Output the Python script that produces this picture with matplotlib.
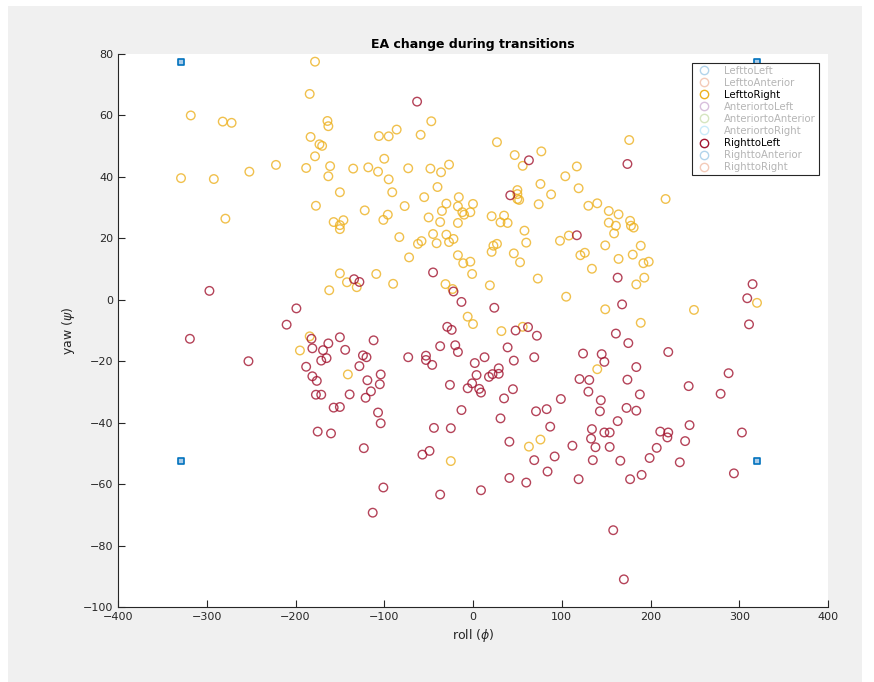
import matplotlib
matplotlib.use("Agg")
import matplotlib.pyplot as plt
from matplotlib.lines import Line2D
from matplotlib.patches import Rectangle
import numpy as np

plt.rcParams['font.family'] = ['Liberation Sans Narrow', 'DejaVu Sans']

# LefttoRight transitions (roll, yaw)
l2r_roll = [-178, -184, -318, -282, -272, -164, -163, -183, -173, -170, -178, -222, -188, -161,
            -135, -329, -292, -252, -163, -150, -177, -279, -157, -146, -150, -150,
            -47, -86, -106, -95, -59, 27, 47, 77, 56, -100, -118, -107, -73, -48, -36, -27,
            -95, -91, -40, -122, -96, -101, -77, -55, -50, -35, -37, -30, -16, -17, -12, -10,
            -3, 0, -17, -83, -45, -30, -22, -27, -58, -62, -41, 21, 35, 31, 39, 50, 50, 50, 52,
            76, 88, 74, 104, 117, 119, 130, 140, 58, 60, 98, 108, 23, 27,
            176, 217, 153, 164, 153, 161, 177, 178, 181, 159, 149, 189,
            -150, -142, -131, -162, -184, -195, -141,
            -72, -17, -11, -3, -1, -109, -90, -31, -23, 21, 46, 53, 121, 126, 134, 73, 105, 19,
            -6, 0, 32, 56, 140,
            164, 180, 192, 198, 193, 184, 149, 189, 249, 320,
            -25, 63, 76]
l2r_yaw = [77.5, 67, 60, 58, 57.6, 58.2, 56.5, 53, 50.6, 50.1, 46.7, 43.9, 42.9, 43.5,
           42.7, 39.6, 39.3, 41.7, 40.2, 35, 30.6, 26.4, 25.3, 25.9, 24.3, 23,
           58.1, 55.4, 53.3, 53.2, 53.7, 51.3, 47.1, 48.3, 43.6, 45.9, 43.1, 41.7, 42.8, 42.7, 41.5, 44,
           39.2, 35, 36.7, 29.1, 27.7, 26, 30.5, 33.4, 26.8, 28.9, 25.3, 31.3, 33.4, 30.4, 28.5, 27.7,
           28.5, 31.2, 25, 20.4, 21.4, 21.2, 19.8, 18.8, 19.1, 18.2, 18.4, 27.2, 27.4, 25.2, 25, 35.7, 34.4, 32.8, 32.5,
           37.7, 34.3, 31.1, 40.2, 43.4, 36.3, 30.6, 31.4, 22.5, 18.6, 19.2, 20.9, 17.6, 18.2,
           52, 32.8, 28.9, 27.8, 25.1, 24.1, 25.7, 24.1, 23.5, 21.6, 17.7, 17.6,
           8.6, 5.7, 4.1, 3.1, -11.9, -16.5, -24.3,
           13.8, 14.5, 11.9, 12.4, 8.4, 8.4, 5.2, 5.1, 3.5, 15.6, 15.1, 12.2, 14.5, 15.3, 10.1, 6.9, 1.0, 4.7,
           -5.5, -7.9, -10.2, -8.8, -22.6,
           13.3, 14.7, 11.9, 12.4, 7.2, 5.0, -3.1, -7.5, -3.3, -1.0,
           -52.5, -47.8, -45.5]

# RighttoLeft transitions (roll, yaw)
r2l_roll = [-63, 63, 42, 117, 174,
            -297, -319, -253, -199, -210, -182, -181, -169, -163, -150, -144, -134, -128, -165, -171,
            -188, -181, -176, -177, -171, -139, -128, -157, -150, -175, -160,
            -45, -22, -13, 24, -29, -24, 48, 62, 72, -112, -124, -120, -73, -53, -53, -46, -37, -20,
            -17, 13, 39, 46, 69, 2, 4, 18, 22, 29, 29, -1, -6, 7, 9, -26, 45, 35, -13, 31, 71, 83,
            87, 99, 124, 120, 131, 130, 134, -104, -105, -119, -115, -121, -107, -104, -44, -25, 133,
            163, 168, 315, 309, 311, 161, 175, 220, 145, 148, 184, 174, 288, 243, 279, 188, 144, 143,
            173, 184, 163, 148, 154, 211, 220, 244, 303, 219, 239,
            -123, -101, -113, -57, -49, -37, 9, 41, 41, 60, 69, 84, 92, 112, 119, 138, 135,
            154, 166, 177, 190, 199, 207, 233, 294, 158, 170]
r2l_yaw = [64.5, 45.4, 34, 21, 44.2,
           2.9, -12.7, -20, -2.8, -8.1, -12.7, -15.8, -16.4, -14.2, -12.2, -16.3, 6.7, 5.8, -19, -19.8,
           -21.8, -24.9, -26.4, -30.9, -30.9, -30.8, -21.6, -35.1, -34.9, -42.9, -43.5,
           8.9, 2.7, -0.7, -2.6, -8.8, -9.8, -10, -8.9, -11.7, -13.2, -18.1, -18.7, -18.7, -18.2, -19.6, -21.2, -15.1, -14.8,
           -17, -18.7, -15.5, -19.8, -18.7, -20.6, -24.5, -25.1, -24.2, -22.3, -24.1, -27.2, -28.8, -29, -30.2, -27.7, -29.1, -32.1, -35.9, -38.6, -36.3, -35.6,
           -41.3, -32.3, -17.5, -25.8, -26.1, -29.9, -42.1, -24.3, -27.5, -26.2, -29.8, -31.9, -36.7, -40.2, -41.7, -41.8, -45.2,
           7.2, -1.5, 5.1, 0.5, -8, -11, -14.1, -17, -17.7, -20.2, -21.9, -26, -23.9, -28.1, -30.6, -30.8, -32.7, -36.3,
           -35.2, -36.1, -39.5, -43.2, -43.2, -42.9, -43.2, -40.8, -43.2, -44.8, -46,
           -48.3, -61.1, -69.3, -50.4, -49.2, -63.4, -62, -46.2, -58, -59.5, -52.2, -55.9, -51, -47.5, -58.4, -48, -52.2,
           -47.9, -52.4, -58.4, -57, -51.5, -48.2, -52.9, -56.5, -75, -91]

# corner markers
corner_roll = [-329, 320, -329, 320]
corner_yaw = [77.5, 77.5, -52.5, -52.5]

legend_names = ['LefttoLeft', 'LefttoAnterior', 'LefttoRight', 'AnteriortoLeft',
                'AnteriortoAnterior', 'AnteriortoRight', 'RighttoLeft',
                'RighttoAnterior', 'RighttoRight']
legend_colors = ['#0072BD', '#D95319', '#EDB120', '#7E2F8E', '#77AC30',
                 '#4DBEEE', '#A2142F', '#0072BD', '#D95319']
shown = ['LefttoRight', 'RighttoLeft']

fig = plt.figure(figsize=(8.74, 6.82), dpi=100, facecolor='white')
fig.patches.append(Rectangle((8 / 874, 0), 854 / 874, 676 / 682, transform=fig.transFigure,
                             facecolor='#f0f0f0', edgecolor='none', zorder=-10))
ax = fig.add_axes([118 / 874, 1 - 607 / 682, 710 / 874, 553 / 682])

ax.scatter(l2r_roll, l2r_yaw, s=38, facecolors='none', edgecolors='#EDB120',
           linewidths=1.0, alpha=0.8)
ax.scatter(r2l_roll, r2l_yaw, s=38, facecolors='none', edgecolors='#A2142F',
           linewidths=1.0, alpha=0.8)
ax.scatter(corner_roll, corner_yaw, s=18, marker='s', facecolors='#a9cbe8',
           edgecolors='#0072BD', linewidths=1.2, zorder=3)

ax.set_xlim(-400, 400)
ax.set_ylim(-100, 80)
ax.set_xticks(np.arange(-400, 401, 100))
ax.set_yticks(np.arange(-100, 81, 20))
ax.tick_params(direction='in', length=5, labelsize=8, colors='#262626')
for s in ['top', 'right']:
    ax.spines[s].set_visible(False)
for s in ['left', 'bottom']:
    ax.spines[s].set_color('#262626')
    ax.spines[s].set_linewidth(0.8)

ax.set_title('EA change during transitions', fontsize=9, fontweight='bold', pad=4)
ax.set_xlabel(r'roll ($\phi$)', fontsize=9, color='#262626')
ax.set_ylabel(r'yaw ($\psi$)', fontsize=9, color='#262626')

handles = []
for name, c in zip(legend_names, legend_colors):
    a = 1.0 if name in shown else 0.3
    handles.append(Line2D([], [], linestyle='none', marker='o', markersize=6,
                          markerfacecolor='none', markeredgecolor=c, alpha=a))
leg = ax.legend(handles, legend_names, loc='upper right', bbox_to_anchor=(0.987, 0.984),
                borderaxespad=0, fontsize=7.3, frameon=True, fancybox=False,
                edgecolor='#262626', framealpha=1, handletextpad=1.1,
                labelspacing=0.2, borderpad=0.3, handlelength=1.8)
leg.set_zorder(6)
leg.get_frame().set_linewidth(0.8)
for t in leg.get_texts():
    if t.get_text() not in shown:
        t.set_color('#b5b5b5')

fig.savefig('out.png', dpi=100, facecolor=fig.get_facecolor())
